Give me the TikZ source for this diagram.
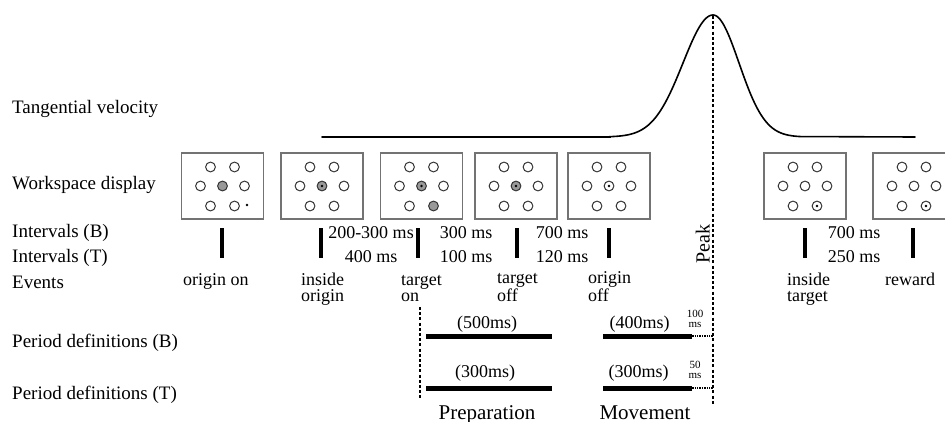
\documentclass[tikz,border=0pt]{standalone}
\usepackage{fontspec}
\setmainfont{Liberation Serif}
\usetikzlibrary{positioning, calc}

\newcommand{\wsdisplay}[4]{%
  \node[wsframe] (#1) at (#2, 186) {};
  \foreach \dx/\dy in {-12/-19, 12/-19, -22/0, 22/0, -12/20}
    \draw[ring] ($(#1)+(\dx,\dy)$) circle (4.9);
  \draw[ring, fill=#3] (#1) circle (4.9);
  \draw[ring, fill=#4] ($(#1)+(12,20)$) circle (4.9);
}

\begin{document}
\begin{tikzpicture}[
  x=1pt, y=-1pt,
  rowlbl/.style={anchor=base west, inner sep=0, font=\fontsize{19}{19}\selectfont},
  ival/.style={anchor=base, inner sep=0, font=\fontsize{18}{18}\selectfont},
  evlbl/.style={anchor=base west, inner sep=0, align=left, font=\fontsize{18}{16.5}\selectfont},
  plbl/.style={inner sep=0, font=\fontsize{18}{18}\selectfont},
  tiny/.style={inner sep=0, align=center, font=\fontsize{11}{10.5}\selectfont},
  phase/.style={anchor=base, inner sep=0, font=\fontsize{21}{21}\selectfont},
  wsframe/.style={draw=black!55, line width=1.2pt, minimum width=82pt, minimum height=66pt, inner sep=0},
  ring/.style={draw=black!80, line width=1pt},
  evbar/.style={fill=black, inner sep=0, minimum width=4pt, minimum height=30pt},
  pbar/.style={fill=black, inner sep=0, minimum height=5pt},
  velo/.style={line width=1.6pt, line cap=round},
  peakline/.style={line width=1.6pt, dash pattern=on 3pt off 2.2pt},
  tail/.style={line width=1.6pt, dash pattern=on 1.3pt off 1.1pt},
]
  \useasboundingbox (0,0) rectangle (945,422);

  % Row labels
  \node[rowlbl] (rvel) at (12,114) {Tangential velocity};
  \node[rowlbl] (rws)  at (12,190) {Workspace display};
  \node[rowlbl] (rib)  at (12,237) {Intervals (B)};
  \node[rowlbl] (rit)  at (12,262) {Intervals (T)};
  \node[rowlbl] (rev)  at (12,288) {Events};
  \node[rowlbl] (rpb)  at (12,347) {Period definitions (B)};
  \node[rowlbl] (rpt)  at (12,399) {Period definitions (T)};

  % Velocity profile
  \coordinate (vL) at (322,137);
  \coordinate (vR) at (915,137);
  \draw[velo] (vL) -- (610,137)
    -- plot[domain=610:713, samples=60] (\x, {137-122*exp(-0.5*((\x-713)/30)^2)})
    -- plot[domain=713:800, samples=60] (\x, {137-122*exp(-0.5*((\x-713)/26)^2)})
    -- (vR);

  % Workspace displays
  \wsdisplay{w1}{222.5}{black!40}{white}
  \wsdisplay{w2}{322}{black!40}{white}
  \wsdisplay{w3}{421.5}{black!40}{black!40}
  \wsdisplay{w4}{516}{black!40}{white}
  \wsdisplay{w5}{609}{white}{white}
  \wsdisplay{w6}{805}{white}{white}
  \wsdisplay{w7}{914}{white}{white}
  \fill ($(w1)+(24.5,19)$) circle (1.3);
  \foreach \w in {w2, w3, w4, w5}
    \fill (\w) circle (1.3);
  \foreach \w in {w6, w7}
    \fill ($(\w)+(12,20)$) circle (1.3);

  % Event markers
  \foreach \n/\x in {1/222, 2/321, 3/418, 4/517, 5/609, 6/805, 7/913}
    \node[evbar] (e\n) at (\x, 243) {};

  % Intervals
  \foreach \n/\x/\b/\t in {1/371/200-300/400, 2/466/300/100, 3/562/700/120, 4/854/700/250} {
    \node[ival] (ib\n) at (\x, 239) {\b{} ms};
    \node[ival] (it\n) at (\x, 262) {\t{} ms};
  }

  % Events
  \node[evlbl] (v1) at (183, 285) {origin on};
  \node[evlbl] (v2) at (301, 301.5) {inside\\origin};
  \node[evlbl] (v3) at (401, 301.5) {target\\on};
  \node[evlbl] (v4) at (497, 301.5) {target\\off};
  \node[evlbl] (v5) at (588, 301.5) {origin\\off};
  \node[evlbl] (v6) at (787, 301.5) {inside\\target};
  \node[evlbl] (v7) at (885, 285) {reward};

  % Peak
  \coordinate (peaktop) at (713, 16);
  \coordinate (peakfoot) at (713, 405);
  \draw[peakline] (peaktop) -- (peakfoot);
  \node[rotate=90, anchor=base, inner sep=0, font=\fontsize{20}{20}\selectfont] (pk) at (709.5, 244) {Peak};

  % Period definitions
  \coordinate (prepA) at (420, 307);
  \coordinate (prepZ) at (420, 398);
  \draw[peakline] (prepA) -- (prepZ);
  \node[pbar, minimum width=126pt] (prepB) at (489, 336) {};
  \node[pbar, minimum width=89pt]  (movB)  at (647.5, 336) {};
  \node[pbar, minimum width=126pt] (prepT) at (489, 388) {};
  \node[pbar, minimum width=89pt]  (movT)  at (647.5, 388) {};
  \draw[tail] (movB.east) -- (movB.east -| peaktop);
  \draw[tail] (movT.east) -- (movT.east -| peaktop);

  \node[plbl, above=1pt of prepB, xshift=-2pt] (dpb) {(500ms)};
  \node[plbl, above=1pt of movB, xshift=-8pt] (dmb) {(400ms)};
  \node[plbl, above=4pt of prepT, xshift=-4pt] (dpt) {(300ms)};
  \node[plbl, above=4pt of movT, xshift=-9pt]  (dmt) {(300ms)};
  \node[tiny, anchor=south] (xb) at (695, 328) {100\\ms};
  \node[tiny, anchor=south] (xt) at (695, 379) {50\\ms};

  \node[phase] (prep) at (487, 419) {Preparation};
  \node[phase] (mov)  at (645, 419) {Movement};
\end{tikzpicture}
\end{document}
